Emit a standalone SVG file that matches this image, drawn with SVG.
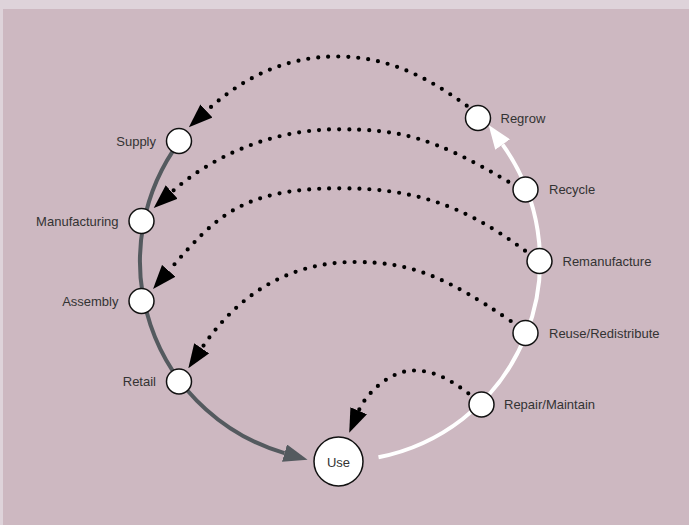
<svg xmlns="http://www.w3.org/2000/svg" width="689" height="525" viewBox="0 0 689 525">
  <style>
    .node { fill: #ffffff; stroke: #111111; stroke-width: 1.5; }
    .lbl { font-family: "Liberation Sans", Arial, sans-serif; font-size: 13px; fill: #333333; dominant-baseline: central; }
    .lbl-r { text-anchor: start; }
    .lbl-l { text-anchor: end; }
    .dots { fill: none; stroke: #000000; stroke-width: 4.2; stroke-linecap: round; stroke-dasharray: 0 10; marker-end: url(#ah-black); }
    .grey { fill: none; stroke: #545a5f; stroke-width: 4; marker-end: url(#ah-grey); }
    .white { fill: none; stroke: #ffffff; stroke-width: 4; marker-end: url(#ah-white); }
  </style>
  <defs>
    <marker id="ah-black" markerUnits="userSpaceOnUse" viewBox="0 0 24 18" refX="0" refY="9" markerWidth="24" markerHeight="18" orient="auto">
      <path d="M0,0 L24,9 L0,18 z" fill="#000000"/>
    </marker>
    <marker id="ah-grey" markerUnits="userSpaceOnUse" viewBox="0 0 24 18" refX="0" refY="9" markerWidth="24" markerHeight="18" orient="auto">
      <path d="M0,0 L24,9 L0,18 z" fill="#545a5f"/>
    </marker>
    <marker id="ah-white" markerUnits="userSpaceOnUse" viewBox="0 0 24 18" refX="0" refY="9" markerWidth="24" markerHeight="18" orient="auto">
      <path d="M0,0 L24,9 L0,18 z" fill="#ffffff"/>
    </marker>
  </defs>

  <rect x="0" y="0" width="689" height="525" fill="#ded3da"/>
  <rect x="3" y="9" width="686" height="516" fill="#cdb8c1"/>

  <g id="connectors">
    <path class="grey" d="M179.6,141.5 A200,200 0 0 0 284.5,453.1"/>
    <path class="white" d="M378.5,457.3 A200,200 0 0 0 502.6,144.6"/>
    <path class="dots" d="M466.7,105.7 C426.2,76.2 387,56.5 337,56.5 C282,56.5 239.6,80.5 206.5,111"/>
    <path class="dots" d="M508.3,181.7 C430.9,135.8 398,129.3 338,129.3 C268,129.3 209.2,158.8 171.7,192"/>
    <path class="dots" d="M525,250.7 C461,202.7 410,188.3 340,188.3 C240,188.3 214.8,217.9 168.8,270.8"/>
    <path class="dots" d="M510.7,321 C444.5,276 410,262 355,262 C285,262 235.1,298.4 201.7,348.3"/>
    <path class="dots" d="M468.3,393.3 C452.3,381.4 436,370.5 414,370.5 C389,370.5 365.8,394.2 358.7,410.7"/>
  </g>

  <g id="node-supply">
    <circle class="node" cx="179" cy="141" r="12.5"/>
    <text class="lbl lbl-l" x="156" y="141">Supply</text>
  </g>
  <g id="node-manufacturing">
    <circle class="node" cx="141.5" cy="221" r="12.5"/>
    <text class="lbl lbl-l" x="118.5" y="221">Manufacturing</text>
  </g>
  <g id="node-assembly">
    <circle class="node" cx="141.5" cy="301" r="12.5"/>
    <text class="lbl lbl-l" x="118.5" y="301">Assembly</text>
  </g>
  <g id="node-retail">
    <circle class="node" cx="179" cy="381.5" r="12.5"/>
    <text class="lbl lbl-l" x="156" y="381.5">Retail</text>
  </g>
  <g id="node-use">
    <circle class="node" cx="338.5" cy="461.5" r="24.5"/>
    <text class="lbl" x="338.5" y="462" text-anchor="middle">Use</text>
  </g>
  <g id="node-repair">
    <circle class="node" cx="481.5" cy="404.5" r="12.5"/>
    <text class="lbl lbl-r" x="504" y="404.5">Repair/Maintain</text>
  </g>
  <g id="node-reuse">
    <circle class="node" cx="525.5" cy="333" r="12.5"/>
    <text class="lbl lbl-r" x="549" y="333">Reuse/Redistribute</text>
  </g>
  <g id="node-remanufacture">
    <circle class="node" cx="539.5" cy="261" r="12.5"/>
    <text class="lbl lbl-r" x="562.5" y="261">Remanufacture</text>
  </g>
  <g id="node-recycle">
    <circle class="node" cx="525.5" cy="189.5" r="12.5"/>
    <text class="lbl lbl-r" x="549" y="189.5">Recycle</text>
  </g>
  <g id="node-regrow">
    <circle class="node" cx="478" cy="118" r="12.5"/>
    <text class="lbl lbl-r" x="500.5" y="118">Regrow</text>
  </g>
</svg>
